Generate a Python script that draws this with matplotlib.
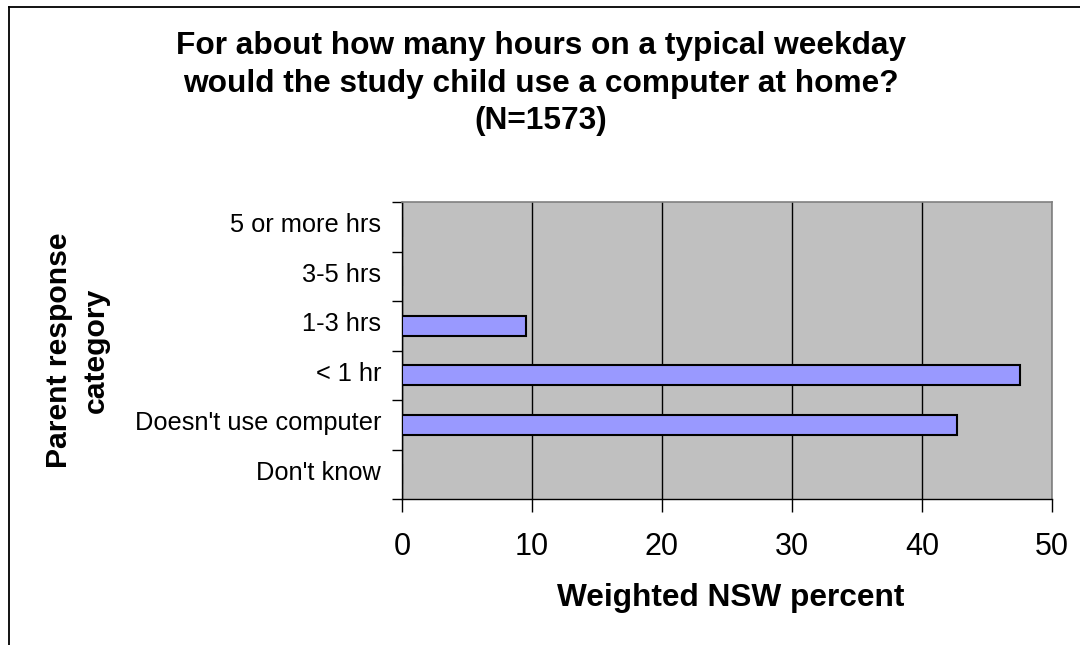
import matplotlib
matplotlib.use("Agg")
import matplotlib.pyplot as plt
from matplotlib.lines import Line2D
from matplotlib.transforms import ScaledTranslation

plt.rcParams['font.family'] = ['Liberation Sans', 'DejaVu Sans']

categories = ["Don't know", "Doesn't use computer", "< 1 hr", "1-3 hrs", "3-5 hrs", "5 or more hrs"]
values = [0.0, 42.7, 47.5, 9.5, 0.0, 0.0]
x_ticks = [0, 10, 20, 30, 40, 50]
title_lines = ["For about how many hours on a typical weekday",
               "would the study child use a computer at home?",
               "(N=1573)"]

W, H = 1080, 645
fig = plt.figure(figsize=(W / 100, H / 100), dpi=100)
fig.patch.set_facecolor('white')

# plot area in pixels
left_px, right_px, top_px, bottom_px = 402, 1052, 202, 499
ax = fig.add_axes([left_px / W, 1 - bottom_px / H, (right_px - left_px) / W, (bottom_px - top_px) / H])
ax.set_facecolor('#C0C0C0')

pos = list(range(len(categories)))
ax.barh(pos, values, height=0.4, color='#9999FF', edgecolor='black', linewidth=1.5, zorder=3)

ax.set_xlim(0, 50)
ax.set_ylim(-0.5, len(categories) - 0.5)
ax.set_xticks(x_ticks)
ax.set_xticklabels([str(t) for t in x_ticks], fontsize=22)
ax.xaxis.grid(True, color='black', linewidth=1.0, zorder=1)
ax.set_axisbelow(True)

ax.set_yticks(pos)
ax.set_yticklabels(categories, fontsize=18.3)
ax.set_yticks([p - 0.5 for p in pos] + [len(categories) - 0.5], minor=True)
ax.tick_params(axis='y', which='major', length=0, pad=20)
ax.tick_params(axis='y', which='minor', length=7, width=1, direction='out', color='black')
ax.tick_params(axis='x', which='major', length=9, width=1, direction='out', pad=15, color='black')
shift = ScaledTranslation(7 / 100, 4 / 100, fig.dpi_scale_trans)
for lbl in ax.get_yticklabels():
    lbl.set_transform(lbl.get_transform() + shift)

for s in ['top', 'right']:
    ax.spines[s].set_color('#808080')
    ax.spines[s].set_linewidth(1.2)
for s in ['left', 'bottom']:
    ax.spines[s].set_color('black')
    ax.spines[s].set_linewidth(1.0)

# axis titles
fig.text(731 / W, 1 - 598 / H, "Weighted NSW percent", ha='center', va='center',
         fontsize=22.8, fontweight='bold')
fig.text(77 / W, 1 - 350 / H, "Parent response\ncategory", ha='center', va='center',
         rotation=90, fontsize=21.7, fontweight='bold', linespacing=1.4)

# chart title
for line, y in zip(title_lines, [46, 84, 121]):
    fig.text(541 / W, 1 - y / H, line, ha='center', va='center', fontsize=22.8, fontweight='bold')

# chart border (top and left visible)
fig.add_artist(Line2D([9 / W, 1.0], [1 - 7 / H, 1 - 7 / H], transform=fig.transFigure, color='black', linewidth=1.3))
fig.add_artist(Line2D([9 / W, 9 / W], [0.0, 1 - 7 / H], transform=fig.transFigure, color='black', linewidth=1.3))

fig.savefig('out.png', dpi=100)
